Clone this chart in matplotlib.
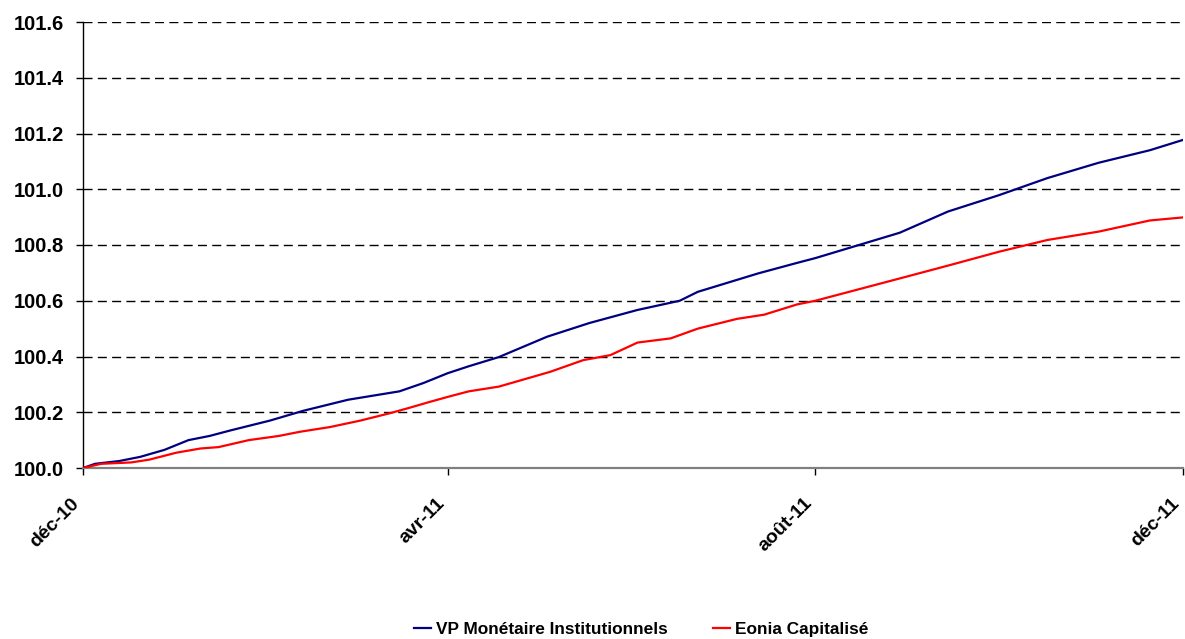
import matplotlib
matplotlib.use("Agg")
import matplotlib.pyplot as plt
import pandas as pd

plt.rcParams['font.family'] = ['Liberation Sans', 'DejaVu Sans']

vp_dates = ["2010-12-01", "2010-12-05", "2010-12-13", "2010-12-20", "2010-12-28",
            "2011-01-05", "2011-01-12", "2011-01-19", "2011-02-01", "2011-02-12",
            "2011-02-27", "2011-03-16", "2011-03-24", "2011-04-01", "2011-04-08",
            "2011-04-18", "2011-05-04", "2011-05-18", "2011-06-03", "2011-06-17",
            "2011-06-23", "2011-07-13", "2011-07-26", "2011-08-01", "2011-08-29",
            "2011-09-14", "2011-10-01", "2011-10-17", "2011-11-03", "2011-11-20",
            "2011-12-01"]
vp_values = [100.000, 100.015, 100.025, 100.040, 100.065,
             100.100, 100.115, 100.135, 100.170, 100.205,
             100.245, 100.275, 100.305, 100.340, 100.365,
             100.398, 100.471, 100.520, 100.567, 100.600,
             100.632, 100.698, 100.736, 100.753, 100.844,
             100.920, 100.979, 101.040, 101.095, 101.140,
             101.177]

eonia_dates = ["2010-12-01", "2010-12-07", "2010-12-17", "2010-12-23", "2011-01-01",
               "2011-01-09", "2011-01-15", "2011-01-25", "2011-02-04", "2011-02-11",
               "2011-02-21", "2011-03-03", "2011-03-13", "2011-03-19", "2011-03-26",
               "2011-04-01", "2011-04-08", "2011-04-18", "2011-05-05", "2011-05-16",
               "2011-05-25", "2011-06-03", "2011-06-14", "2011-06-23", "2011-07-06",
               "2011-07-15", "2011-07-26", "2011-08-01", "2011-08-29", "2011-09-14",
               "2011-10-01", "2011-10-17", "2011-11-03", "2011-11-20", "2011-12-01"]
eonia_values = [100.000, 100.015, 100.020, 100.030, 100.055,
                100.070, 100.075, 100.100, 100.115, 100.130,
                100.147, 100.170, 100.197, 100.215, 100.237,
                100.255, 100.275, 100.292, 100.345, 100.387,
                100.405, 100.450, 100.465, 100.500, 100.535,
                100.550, 100.587, 100.600, 100.680, 100.726,
                100.776, 100.818, 100.848, 100.888, 100.899]

y_ticks = [100.0, 100.2, 100.4, 100.6, 100.8, 101.0, 101.2, 101.4, 101.6]
x_tick_dates = ["2010-12-01", "2011-04-01", "2011-08-01", "2011-12-01"]
x_tick_labels = ["déc-10", "avr-11", "août-11", "déc-11"]

fig = plt.figure(figsize=(11.85, 6.39), dpi=100)
ax = fig.add_axes([83/1185, 1-468/639, 1100/1185, 446/639])

ax.plot(pd.to_datetime(vp_dates), vp_values, color="#000080", lw=1.6,
        label="VP Monétaire Institutionnels", zorder=3)
ax.plot(pd.to_datetime(eonia_dates), eonia_values, color="#FF0000", lw=1.6,
        label="Eonia Capitalisé", zorder=3)

ax.set_ylim(100.0, 101.6)
ax.set_xlim(pd.Timestamp("2010-12-01"), pd.Timestamp("2011-12-01"))
ax.set_yticks(y_ticks)
ax.set_yticklabels([f"{v:.1f}" for v in y_ticks], fontsize=14.5, fontweight="bold")
ax.set_xticks(pd.to_datetime(x_tick_dates))
ax.set_xticklabels(x_tick_labels, fontsize=14, fontweight="bold",
                   rotation=45, ha="right", va="bottom", rotation_mode="anchor")

for v in y_ticks[1:]:
    ax.axhline(v, color="black", lw=1.0, dashes=(6.5, 3.8), zorder=1)

for s in ["top", "right"]:
    ax.spines[s].set_visible(False)
ax.spines["left"].set_color("black")
ax.spines["left"].set_linewidth(1.0)
ax.spines["bottom"].set_color("#808080")
ax.spines["bottom"].set_linewidth(1.6)
ax.tick_params(axis="y", direction="out", length=5, width=1, pad=9)
ax.tick_params(axis="x", direction="out", length=5, width=1, pad=23)

leg = fig.legend(loc="center", bbox_to_anchor=(0.541, 1-629/639), ncol=2,
                 frameon=False, handlelength=1.0, handletextpad=0.3, columnspacing=2.6,
                 prop={"weight": "bold", "size": 12.4})

fig.savefig("out.png", dpi=100)
